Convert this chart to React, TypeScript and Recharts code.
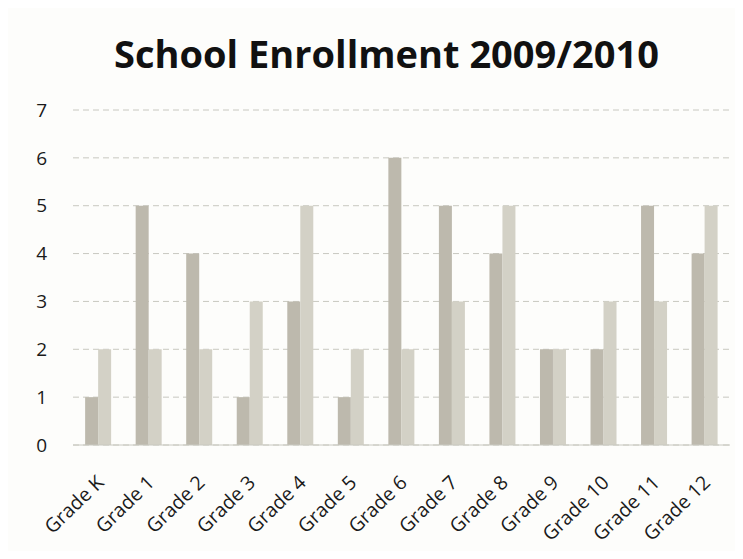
import { BarChart, Bar, XAxis, YAxis, CartesianGrid } from "recharts";

const grades = [
  "Grade K", "Grade 1", "Grade 2", "Grade 3", "Grade 4", "Grade 5", "Grade 6",
  "Grade 7", "Grade 8", "Grade 9", "Grade 10", "Grade 11", "Grade 12",
];
const series2009 = [1, 5, 4, 1, 3, 1, 6, 5, 4, 2, 2, 5, 4];
const series2010 = [2, 2, 2, 3, 5, 2, 2, 3, 5, 2, 3, 3, 5];
const yTicks = [0, 1, 2, 3, 4, 5, 6, 7];

const data = grades.map((g, i) => ({ grade: g, a: series2009[i], b: series2010[i] }));

const FONT = "'Open Sans', 'Noto Sans', sans-serif";

const XTick = (props: any) => {
  const { x, y, payload } = props;
  return (
    <g transform={`translate(${x - 3},${y + 21})`}>
      <text
        textAnchor="end"
        transform="rotate(-44)"
        fontSize={19.5}
        fontFamily={FONT}
        fill="#1a1a1a"
        dy={14}
      >
        {payload.value}
      </text>
    </g>
  );
};

export default function App() {
  return (
    <div
      style={{
        position: "relative",
        width: 743,
        height: 559,
        margin: -8,
        background: "#fdfdfb",
        boxSizing: "border-box",
        border: "1px dashed #d8d8d2",
      }}
    >
      <div
        style={{
          position: "absolute",
          top: 26,
          left: 14,
          width: 743,
          textAlign: "center",
          fontFamily: FONT,
          fontWeight: 700,
          fontSize: 38,
          color: "#111",
        }}
      >
        School Enrollment 2009/2010
      </div>
      <BarChart
        width={741}
        height={557}
        data={data}
        margin={{ top: 109, right: 12, bottom: 12, left: 22 }}
        barCategoryGap="24%"
        barGap={0}
      >
        <CartesianGrid
          vertical={false}
          stroke="#c8c8c0"
          strokeDasharray="6 4"
        />
        <XAxis
          dataKey="grade"
          interval={0}
          height={101}
          tick={<XTick />}
          tickLine={false}
          axisLine={{ stroke: "#c8c8c0" }}
        />
        <YAxis
          domain={[0, 7]}
          ticks={yTicks}
          width={50}
          tickLine={false}
          axisLine={false}
          tickMargin={20}
          tick={{ fontSize: 19, fill: "#1a1a1a", fontFamily: FONT }}
        />
        <Bar dataKey="a" fill="#bdb9ad" isAnimationActive={false} />
        <Bar dataKey="b" fill="#d3d1c6" isAnimationActive={false} />
      </BarChart>
    </div>
  );
}
